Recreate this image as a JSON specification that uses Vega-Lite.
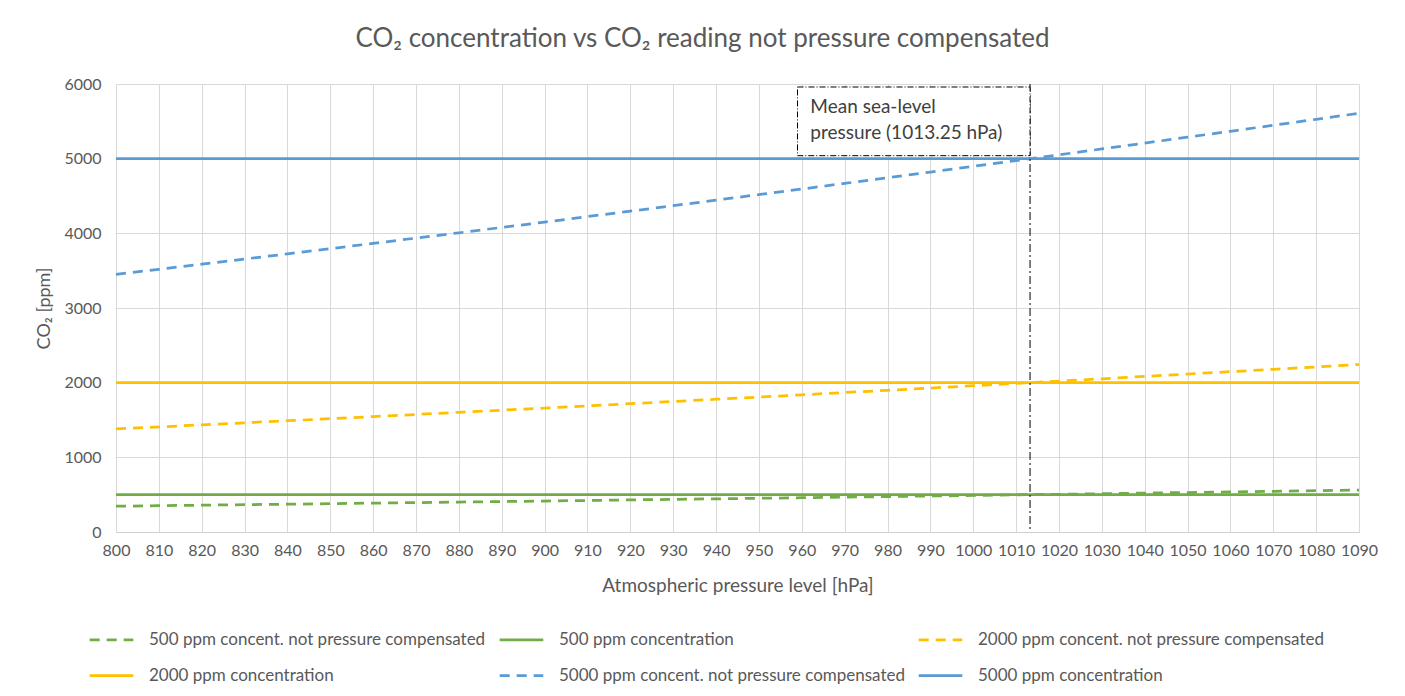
{
  "$schema": "https://vega.github.io/schema/vega-lite/v6.json",
  "width": 1243,
  "height": 448,
  "autosize": "none",
  "padding": {"left": 116, "top": 84, "right": 46, "bottom": 164},
  "background": "white",
  "title": {
    "text": "CO₂ concentration vs CO₂ reading not pressure compensated",
    "font": "Lato, DejaVu Sans",
    "fontSize": 26,
    "fontWeight": "normal",
    "color": "#595959",
    "anchor": "middle",
    "dx": -35,
    "offset": 24
  },
  "config": {
    "view": {"stroke": null},
    "axis": {
      "gridColor": "#d9d9d9",
      "gridWidth": 1,
      "domainColor": "#d0d0d0",
      "ticks": false,
      "labelOverlap": false,
      "labelBound": false,
      "labelFlush": false,
      "labelFont": "Lato",
      "labelFontSize": 16,
      "labelColor": "#595959",
      "titleFont": "Lato, DejaVu Sans",
      "titleFontSize": 19,
      "titleFontWeight": "normal",
      "titleColor": "#595959"
    },
    "legend": {
      "orient": "none",
      "legendX": -28,
      "legendY": 532,
      "columns": 3,
      "direction": "horizontal",
      "title": null,
      "symbolType": "stroke",
      "symbolSize": 1900,
      "symbolStrokeWidth": 2.75,
      "labelFont": "Lato",
      "labelFontSize": 17,
      "labelColor": "#595959",
      "labelOffset": 14,
      "labelLimit": 600,
      "columnPadding": 8,
      "rowPadding": 4
    }
  },
  "data": {
    "values": [
      {"series": "500 ppm concent. not pressure compensated", "p": 800, "ppm": 345},
      {"series": "500 ppm concent. not pressure compensated", "p": 810, "ppm": 352},
      {"series": "500 ppm concent. not pressure compensated", "p": 820, "ppm": 359},
      {"series": "500 ppm concent. not pressure compensated", "p": 830, "ppm": 366},
      {"series": "500 ppm concent. not pressure compensated", "p": 840, "ppm": 372},
      {"series": "500 ppm concent. not pressure compensated", "p": 850, "ppm": 379},
      {"series": "500 ppm concent. not pressure compensated", "p": 860, "ppm": 387},
      {"series": "500 ppm concent. not pressure compensated", "p": 870, "ppm": 394},
      {"series": "500 ppm concent. not pressure compensated", "p": 880, "ppm": 401},
      {"series": "500 ppm concent. not pressure compensated", "p": 890, "ppm": 408},
      {"series": "500 ppm concent. not pressure compensated", "p": 900, "ppm": 415},
      {"series": "500 ppm concent. not pressure compensated", "p": 910, "ppm": 422},
      {"series": "500 ppm concent. not pressure compensated", "p": 920, "ppm": 430},
      {"series": "500 ppm concent. not pressure compensated", "p": 930, "ppm": 437},
      {"series": "500 ppm concent. not pressure compensated", "p": 940, "ppm": 444},
      {"series": "500 ppm concent. not pressure compensated", "p": 950, "ppm": 452},
      {"series": "500 ppm concent. not pressure compensated", "p": 960, "ppm": 459},
      {"series": "500 ppm concent. not pressure compensated", "p": 970, "ppm": 467},
      {"series": "500 ppm concent. not pressure compensated", "p": 980, "ppm": 474},
      {"series": "500 ppm concent. not pressure compensated", "p": 990, "ppm": 482},
      {"series": "500 ppm concent. not pressure compensated", "p": 1000, "ppm": 490},
      {"series": "500 ppm concent. not pressure compensated", "p": 1010, "ppm": 497},
      {"series": "500 ppm concent. not pressure compensated", "p": 1013.25, "ppm": 500},
      {"series": "500 ppm concent. not pressure compensated", "p": 1020, "ppm": 505},
      {"series": "500 ppm concent. not pressure compensated", "p": 1030, "ppm": 513},
      {"series": "500 ppm concent. not pressure compensated", "p": 1040, "ppm": 521},
      {"series": "500 ppm concent. not pressure compensated", "p": 1050, "ppm": 529},
      {"series": "500 ppm concent. not pressure compensated", "p": 1060, "ppm": 537},
      {"series": "500 ppm concent. not pressure compensated", "p": 1070, "ppm": 545},
      {"series": "500 ppm concent. not pressure compensated", "p": 1080, "ppm": 553},
      {"series": "500 ppm concent. not pressure compensated", "p": 1090, "ppm": 561},
      {"series": "500 ppm concentration", "p": 800, "ppm": 500},
      {"series": "500 ppm concentration", "p": 1090, "ppm": 500},
      {"series": "2000 ppm concent. not pressure compensated", "p": 800, "ppm": 1380},
      {"series": "2000 ppm concent. not pressure compensated", "p": 810, "ppm": 1407},
      {"series": "2000 ppm concent. not pressure compensated", "p": 820, "ppm": 1435},
      {"series": "2000 ppm concent. not pressure compensated", "p": 830, "ppm": 1462},
      {"series": "2000 ppm concent. not pressure compensated", "p": 840, "ppm": 1490},
      {"series": "2000 ppm concent. not pressure compensated", "p": 850, "ppm": 1518},
      {"series": "2000 ppm concent. not pressure compensated", "p": 860, "ppm": 1546},
      {"series": "2000 ppm concent. not pressure compensated", "p": 870, "ppm": 1574},
      {"series": "2000 ppm concent. not pressure compensated", "p": 880, "ppm": 1603},
      {"series": "2000 ppm concent. not pressure compensated", "p": 890, "ppm": 1632},
      {"series": "2000 ppm concent. not pressure compensated", "p": 900, "ppm": 1660},
      {"series": "2000 ppm concent. not pressure compensated", "p": 910, "ppm": 1689},
      {"series": "2000 ppm concent. not pressure compensated", "p": 920, "ppm": 1719},
      {"series": "2000 ppm concent. not pressure compensated", "p": 930, "ppm": 1748},
      {"series": "2000 ppm concent. not pressure compensated", "p": 940, "ppm": 1778},
      {"series": "2000 ppm concent. not pressure compensated", "p": 950, "ppm": 1807},
      {"series": "2000 ppm concent. not pressure compensated", "p": 960, "ppm": 1837},
      {"series": "2000 ppm concent. not pressure compensated", "p": 970, "ppm": 1868},
      {"series": "2000 ppm concent. not pressure compensated", "p": 980, "ppm": 1898},
      {"series": "2000 ppm concent. not pressure compensated", "p": 990, "ppm": 1928},
      {"series": "2000 ppm concent. not pressure compensated", "p": 1000, "ppm": 1959},
      {"series": "2000 ppm concent. not pressure compensated", "p": 1010, "ppm": 1990},
      {"series": "2000 ppm concent. not pressure compensated", "p": 1013.25, "ppm": 2000},
      {"series": "2000 ppm concent. not pressure compensated", "p": 1020, "ppm": 2021},
      {"series": "2000 ppm concent. not pressure compensated", "p": 1030, "ppm": 2052},
      {"series": "2000 ppm concent. not pressure compensated", "p": 1040, "ppm": 2084},
      {"series": "2000 ppm concent. not pressure compensated", "p": 1050, "ppm": 2115},
      {"series": "2000 ppm concent. not pressure compensated", "p": 1060, "ppm": 2147},
      {"series": "2000 ppm concent. not pressure compensated", "p": 1070, "ppm": 2179},
      {"series": "2000 ppm concent. not pressure compensated", "p": 1080, "ppm": 2211},
      {"series": "2000 ppm concent. not pressure compensated", "p": 1090, "ppm": 2243},
      {"series": "2000 ppm concentration", "p": 800, "ppm": 2000},
      {"series": "2000 ppm concentration", "p": 1090, "ppm": 2000},
      {"series": "5000 ppm concent. not pressure compensated", "p": 800, "ppm": 3450},
      {"series": "5000 ppm concent. not pressure compensated", "p": 810, "ppm": 3518},
      {"series": "5000 ppm concent. not pressure compensated", "p": 820, "ppm": 3587},
      {"series": "5000 ppm concent. not pressure compensated", "p": 830, "ppm": 3656},
      {"series": "5000 ppm concent. not pressure compensated", "p": 840, "ppm": 3725},
      {"series": "5000 ppm concent. not pressure compensated", "p": 850, "ppm": 3795},
      {"series": "5000 ppm concent. not pressure compensated", "p": 860, "ppm": 3865},
      {"series": "5000 ppm concent. not pressure compensated", "p": 870, "ppm": 3936},
      {"series": "5000 ppm concent. not pressure compensated", "p": 880, "ppm": 4007},
      {"series": "5000 ppm concent. not pressure compensated", "p": 890, "ppm": 4079},
      {"series": "5000 ppm concent. not pressure compensated", "p": 900, "ppm": 4151},
      {"series": "5000 ppm concent. not pressure compensated", "p": 910, "ppm": 4224},
      {"series": "5000 ppm concent. not pressure compensated", "p": 920, "ppm": 4297},
      {"series": "5000 ppm concent. not pressure compensated", "p": 930, "ppm": 4370},
      {"series": "5000 ppm concent. not pressure compensated", "p": 940, "ppm": 4444},
      {"series": "5000 ppm concent. not pressure compensated", "p": 950, "ppm": 4519},
      {"series": "5000 ppm concent. not pressure compensated", "p": 960, "ppm": 4593},
      {"series": "5000 ppm concent. not pressure compensated", "p": 970, "ppm": 4669},
      {"series": "5000 ppm concent. not pressure compensated", "p": 980, "ppm": 4745},
      {"series": "5000 ppm concent. not pressure compensated", "p": 990, "ppm": 4821},
      {"series": "5000 ppm concent. not pressure compensated", "p": 1000, "ppm": 4898},
      {"series": "5000 ppm concent. not pressure compensated", "p": 1010, "ppm": 4975},
      {"series": "5000 ppm concent. not pressure compensated", "p": 1013.25, "ppm": 5000},
      {"series": "5000 ppm concent. not pressure compensated", "p": 1020, "ppm": 5052},
      {"series": "5000 ppm concent. not pressure compensated", "p": 1030, "ppm": 5130},
      {"series": "5000 ppm concent. not pressure compensated", "p": 1040, "ppm": 5209},
      {"series": "5000 ppm concent. not pressure compensated", "p": 1050, "ppm": 5288},
      {"series": "5000 ppm concent. not pressure compensated", "p": 1060, "ppm": 5367},
      {"series": "5000 ppm concent. not pressure compensated", "p": 1070, "ppm": 5447},
      {"series": "5000 ppm concent. not pressure compensated", "p": 1080, "ppm": 5527},
      {"series": "5000 ppm concent. not pressure compensated", "p": 1090, "ppm": 5608},
      {"series": "5000 ppm concentration", "p": 800, "ppm": 5000},
      {"series": "5000 ppm concentration", "p": 1090, "ppm": 5000}
    ]
  },
  "layer": [
    {
      "mark": {"type": "line", "strokeWidth": 2.75},
      "encoding": {
        "x": {
          "field": "p",
          "type": "quantitative",
          "scale": {"domain": [800, 1090], "nice": false, "zero": false},
          "axis": {
            "title": "Atmospheric pressure level [hPa]",
            "values": [800, 810, 820, 830, 840, 850, 860, 870, 880, 890, 900, 910, 920, 930, 940, 950, 960, 970, 980, 990, 1000, 1010, 1020, 1030, 1040, 1050, 1060, 1070, 1080, 1090],
            "format": "d",
            "labelPadding": 10,
            "titlePadding": 18,
            "domain": true
          }
        },
        "y": {
          "field": "ppm",
          "type": "quantitative",
          "scale": {"domain": [0, 6000], "nice": false},
          "axis": {
            "title": "CO₂ [ppm]",
            "titleFontSize": 18,
            "values": [0, 500, 1000, 1500, 2000, 2500, 3000, 3500, 4000, 4500, 5000, 5500, 6000],
            "format": "d",
            "labelPadding": 15,
            "titlePadding": 10,
            "domain": false
          }
        },
        "color": {
          "field": "series",
          "type": "nominal",
          "scale": {
            "domain": ["500 ppm concent. not pressure compensated", "500 ppm concentration", "2000 ppm concent. not pressure compensated", "2000 ppm concentration", "5000 ppm concent. not pressure compensated", "5000 ppm concentration"],
            "range": ["#70AD47", "#70AD47", "#FFC000", "#FFC000", "#5B9BD5", "#5B9BD5"]
          }
        },
        "strokeDash": {
          "field": "series",
          "type": "nominal",
          "scale": {
            "domain": ["500 ppm concent. not pressure compensated", "500 ppm concentration", "2000 ppm concent. not pressure compensated", "2000 ppm concentration", "5000 ppm concent. not pressure compensated", "5000 ppm concentration"],
            "range": [[10, 7], [1, 0], [10, 7], [1, 0], [10, 7], [1, 0]]
          }
        }
      }
    },
    {
      "data": {"values": [{}]},
      "mark": {"type": "rule", "color": "black", "strokeWidth": 1, "strokeDash": [8, 3, 2, 3]},
      "encoding": {"x": {"datum": 1013.25, "type": "quantitative"}}
    },
    {
      "data": {"values": [{}]},
      "mark": {"type": "rect", "fill": "white", "stroke": "black", "strokeWidth": 1, "strokeDash": [6, 2, 1, 2]},
      "encoding": {
        "x": {"datum": 959, "type": "quantitative"},
        "x2": {"datum": 1013.25},
        "y": {"datum": 5960, "type": "quantitative"},
        "y2": {"datum": 5040}
      }
    },
    {
      "data": {"values": [{}]},
      "mark": {
        "type": "text",
        "text": ["Mean sea-level", "pressure (1013.25 hPa)"],
        "align": "left",
        "baseline": "middle",
        "font": "Lato",
        "fontSize": 19,
        "lineHeight": 26,
        "color": "#404040"
      },
      "encoding": {
        "x": {"datum": 962, "type": "quantitative"},
        "y": {"datum": 5692, "type": "quantitative"}
      }
    }
  ]
}
